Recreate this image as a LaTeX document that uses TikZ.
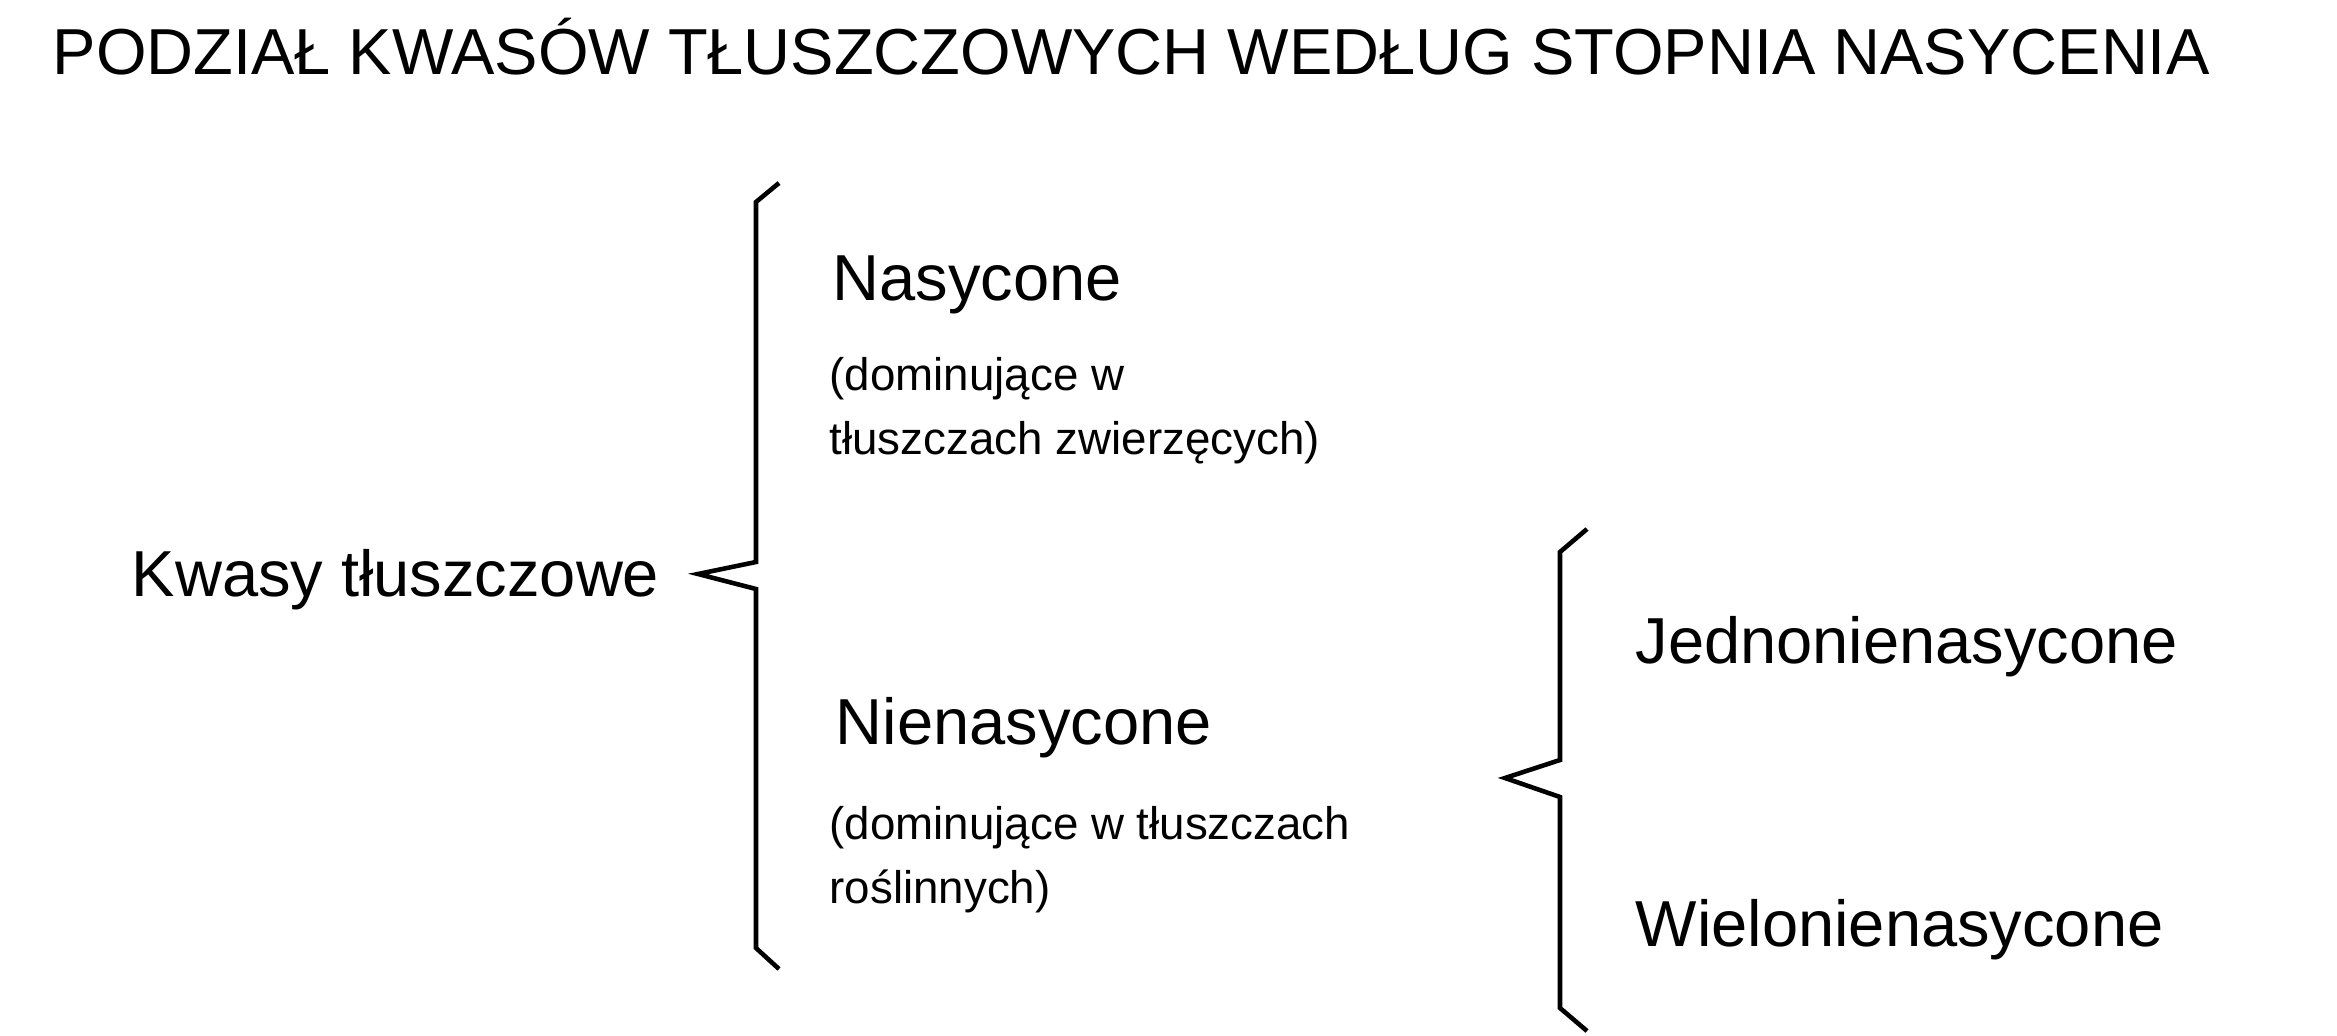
\documentclass[tikz,border=0pt]{standalone}
\usepackage{fontspec}
\setmainfont{Liberation Sans}
\usetikzlibrary{positioning}

\begin{document}
\begin{tikzpicture}[x=0.1mm, y=-0.1mm,
	big/.style={anchor=base west, inner sep=0pt, font=\fontsize{18.5}{22}\selectfont},
	small/.style={anchor=base west, inner sep=0pt, font=\fontsize{13}{18.2}\selectfont},
	brace/.style={line width=1.3pt, line join=miter}
]
	\useasboundingbox (0,0) rectangle (2337,1036);

	% Title
	\node[big] (title) at (52, 75) {PODZIAŁ KWASÓW TŁUSZCZOWYCH WEDŁUG STOPNIA NASYCENIA};

	% Root
	\node[big] (kwasy) at (131, 596) {Kwasy tłuszczowe};

	% First brace
	\draw[brace] (779,183) -- (756,202) -- (756,562) -- (698,574)
		-- (756,589) -- (756,948) -- (779,969);

	% Saturated
	\node[big] (nas) at (832, 301) {Nasycone};
	\node[small] (nas1) at (829, 390) {(dominujące w};
	\node[small] (nas2) at (829, 455) {tłuszczach zwierzęcych)};

	% Unsaturated
	\node[big] (nienas) at (835, 744) {Nienasycone};
	\node[small] (nienas1) at (829, 839) {(dominujące w tłuszczach};
	\node[small] (nienas2) at (829, 903) {roślinnych)};

	% Second brace
	\draw[brace] (1587,529) -- (1560,552) -- (1560,760) -- (1505,778)
		-- (1560,797) -- (1560,1008) -- (1587,1031);

	% Mono and poly
	\node[big] (jedno) at (1635, 663) {Jednonienasycone};
	\node[big] (wielo) at (1635, 946) {Wielonienasycone};
\end{tikzpicture}
\end{document}
